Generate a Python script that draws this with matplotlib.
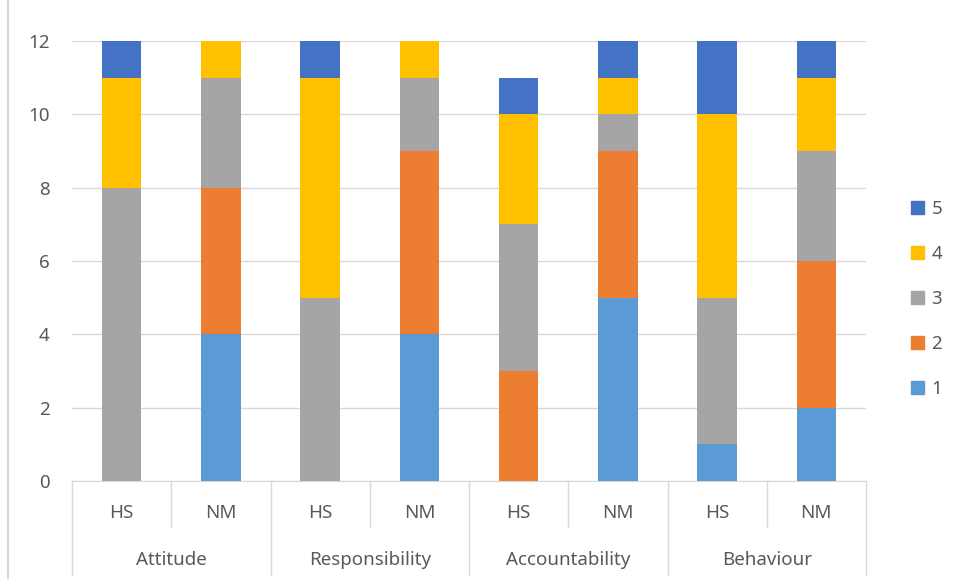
import matplotlib.pyplot as plt
from matplotlib.lines import Line2D
from matplotlib.patches import Patch
import numpy as np

plt.rcParams['font.family'] = ['Noto Sans', 'DejaVu Sans']

groups = ['Attitude', 'Responsibility', 'Accountability', 'Behaviour']
subs = ['HS', 'NM']
levels = ['1', '2', '3', '4', '5']

# counts per bar (Attitude HS, Attitude NM, Responsibility HS, ...)
s1 = [0, 4, 0, 4, 0, 5, 1, 2]
s2 = [0, 4, 0, 5, 3, 4, 0, 4]
s3 = [8, 3, 5, 2, 4, 1, 4, 3]
s4 = [3, 1, 6, 1, 3, 1, 5, 2]
s5 = [1, 0, 1, 0, 1, 1, 2, 1]

cols = ['#5B9BD5', '#ED7D31', '#A5A5A5', '#FFC000', '#4472C4']
txt_col = '#595959'
grid_col = '#D9D9D9'
fs = 13.5

fig = plt.figure(figsize=(9.58, 5.79), dpi=100)
ax = fig.add_axes([72/958, 1 - 481/579, 794/958, 440/579])

x = np.arange(8)
bottom = np.zeros(8)
for vals, c in zip([s1, s2, s3, s4, s5], cols):
    ax.bar(x, vals, width=0.4, bottom=bottom, color=c, zorder=3)
    bottom += np.array(vals)

ax.set_xlim(-0.5, 7.5)
ax.set_ylim(0, 12)
ax.set_yticks(range(0, 13, 2))
ax.yaxis.grid(True, color=grid_col, linewidth=1, zorder=0)
ax.tick_params(axis='y', length=0, labelsize=fs, labelcolor=txt_col, pad=16)
ax.set_xticks([])
for s in ['top', 'right', 'left']:
    ax.spines[s].set_visible(False)
ax.spines['bottom'].set_color(grid_col)

# two-level category axis
tr = ax.get_xaxis_transform()
for i in range(8):
    ax.text(i, -0.072, subs[i % 2], transform=tr, ha='center', va='center',
            fontsize=fs, color=txt_col)
for i in range(7):
    if i % 2 == 0:
        ax.add_line(Line2D([i + 0.5, i + 0.5], [0, -0.105], transform=tr,
                           color=grid_col, lw=1, clip_on=False))
for g in range(5):
    xg = -0.5 + 2 * g
    ax.add_line(Line2D([xg, xg], [0, -0.214], transform=tr,
                       color=grid_col, lw=1, clip_on=False))
for g, name in enumerate(groups):
    ax.text(2 * g + 0.5, -0.18, name, transform=tr, ha='center', va='center',
            fontsize=fs, color=txt_col)

# chart border on the left
fig.add_artist(Line2D([8/958, 8/958], [0, 1], transform=fig.transFigure,
                      color=grid_col, lw=1.5))

handles = [Patch(color=c) for c in cols][::-1]
leg = fig.legend(handles, levels[::-1], loc='center left',
                 bbox_to_anchor=(894/958, 1 - 299/579), frameon=False,
                 fontsize=fs, handlelength=0.7, handleheight=0.7,
                 handletextpad=0.4, labelspacing=1.45)
for t in leg.get_texts():
    t.set_color(txt_col)

fig.savefig('out.png', dpi=100)
